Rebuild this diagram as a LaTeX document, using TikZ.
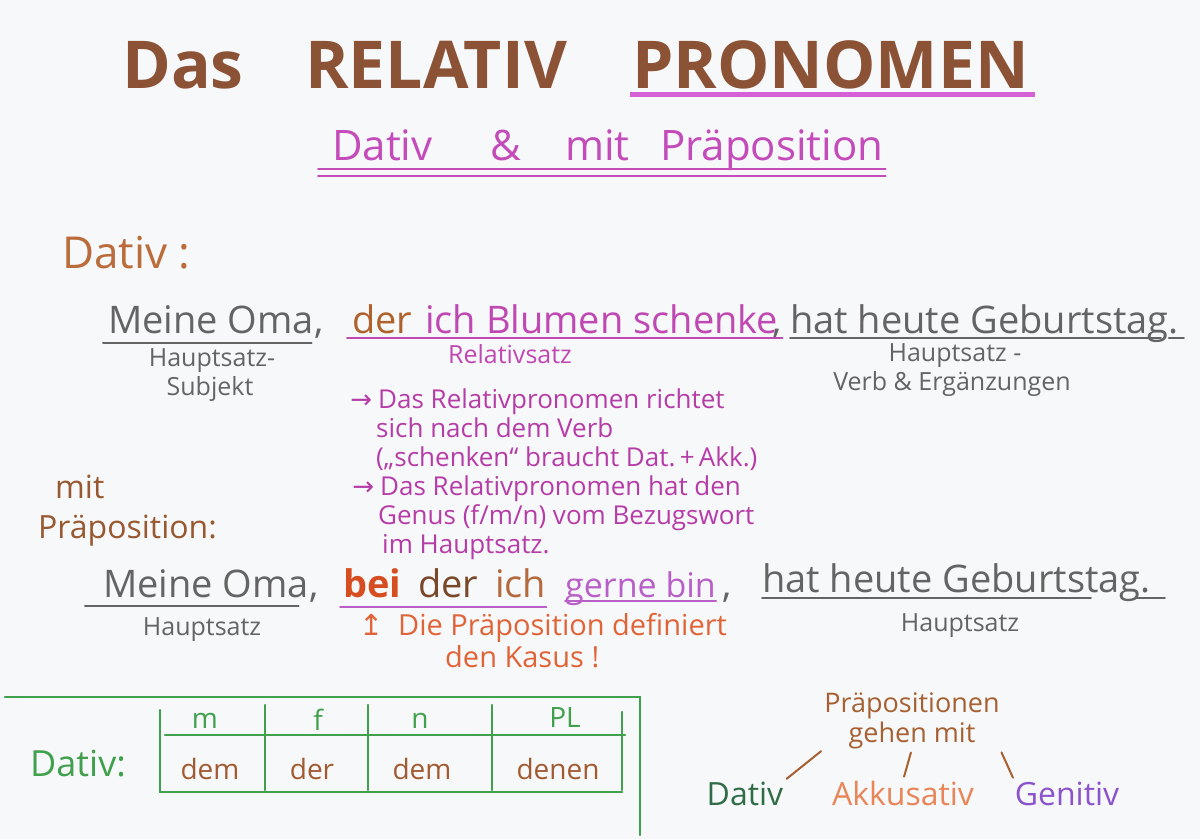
\documentclass[tikz,border=0pt]{standalone}
\usepackage{fontspec}
\setmainfont{Open Sans}
\newfontfamily\symfont{DejaVu Sans}
\usetikzlibrary{positioning}
\definecolor{paper}{RGB}{247,248,250}
\definecolor{titlebrown}{RGB}{140,82,54}
\definecolor{hlpink}{RGB}{214,96,214}
\definecolor{subpink}{RGB}{196,76,186}
\definecolor{dativorange}{RGB}{186,108,58}
\definecolor{pencil}{RGB}{100,100,100}
\definecolor{derbrown}{RGB}{176,98,44}
\definecolor{relpink}{RGB}{192,72,178}
\definecolor{notepink}{RGB}{182,60,168}
\definecolor{mitbrown}{RGB}{152,88,48}
\definecolor{beired}{RGB}{214,78,32}
\definecolor{derdark}{RGB}{120,72,40}
\definecolor{ichbrown}{RGB}{180,106,60}
\definecolor{gernepink}{RGB}{184,96,200}
\definecolor{kasusred}{RGB}{224,100,56}
\definecolor{tabgreen}{RGB}{64,160,76}
\definecolor{cellbrown}{RGB}{162,90,48}
\definecolor{prbrown}{RGB}{166,96,50}
\definecolor{datgreen}{RGB}{48,108,70}
\definecolor{akkorange}{RGB}{232,134,88}
\definecolor{genpurple}{RGB}{140,84,204}
\newcommand{\fsz}[1]{\fontsize{#1}{#1}\selectfont}
\tikzset{
txt/.style={inner sep=0pt, anchor=base west}, % text set on its baseline
ctr/.style={inner sep=0pt, anchor=base},
title/.style={txt, text=titlebrown, font=\fsz{66}\bfseries},
subtitle/.style={txt, text=subpink, font=\fsz{42}},
sent/.style={txt, font=\fsz{38}},
small/.style={ctr, text=pencil, font=\fsz{25}},
note/.style={txt, text=notepink, font=\fsz{26}},
cell/.style={ctr, font=\fsz{28}},
uline/.style={line width=2pt, line cap=round},
tabline/.style={tabgreen, line width=2.5pt, line cap=round},
branch/.style={prbrown, line width=2pt, line cap=round, shorten <=4pt, shorten >=4pt}}

\begin{document}
\begin{tikzpicture}[x=1pt, y=-1pt]
\fill[paper] (0,0) rectangle (1200,839);

% heading
\node[title] (tDas) at (122,88) {Das};
\node[title] (tRel) at (305,88) {RELATIV};
\node[title] (tPro) at (632,88) {PRONOMEN};
\draw[hlpink, line width=5pt] ([xshift=-2pt,yshift=-6pt]tPro.base west) -- ([xshift=6pt,yshift=-6pt]tPro.base east);

\node[subtitle] (sDat) at (332,160) {Dativ};
\node[subtitle] (sAmp) at (490,160) {\&};
\node[subtitle] (sMit) at (565,160) {mit};
\node[subtitle] (sPrae) at (660,160) {Präposition};
\draw[subpink, uline] ([xshift=-14pt,yshift=-9pt]sDat.base west) -- ([xshift=2pt,yshift=-9pt]sPrae.base east);
\draw[subpink, uline] ([xshift=-14pt,yshift=-16pt]sDat.base west) -- ([xshift=2pt,yshift=-16pt]sPrae.base east);

% Dativ
\node[txt, text=dativorange, font=\fsz{44}] (hDat) at (62,268) {Dativ :};

\node[sent, text=pencil] (a1) at (108,333) {Meine Oma,};
\node[sent, text=derbrown] (a2) at (352,333) {der};
\node[sent, text=relpink] (a3) at (425,333) {ich Blumen schenke};
\node[sent, text=pencil] (c1) at (772,333) {,};
\node[sent, text=pencil] (a4) at (790,333) {hat heute Geburtstag.};
\draw[pencil, uline] ([xshift=-5pt,yshift=-10pt]a1.base west) -- ([xshift=-12pt,yshift=-10pt]a1.base east);
\draw[relpink, uline] ([xshift=-5pt,yshift=-5pt]a2.base west) -- ([xshift=4pt,yshift=-5pt]a3.base east);
\draw[pencil, uline] ([yshift=-5pt]a4.base west) -- ([xshift=-18pt,yshift=-5pt]a4.base east);
\draw[pencil, uline] ([xshift=-10pt,yshift=-5pt]a4.base east) -- ([xshift=5pt,yshift=-5pt]a4.base east);

\node[small] (l1a) at (212,366) {Hauptsatz-};
\node[small] (l1b) at (210,395) {Subjekt};
\node[small, text=relpink] (l2) at (510,363) {Relativsatz};
\node[small] (l3a) at (955,361) {Hauptsatz -};
\node[small] (l3b) at (952,390) {Verb \& Ergänzungen};

\node[note] (n1) at (378,408) {\makebox[0pt][r]{\symfont →\hspace{6pt}}Das Relativpronomen richtet};
\node[note] (n2) at (376,437) {sich nach dem Verb};
\node[note] (n3) at (376,466) {(„schenken“ braucht Dat.\,+\,Akk.)};
\node[note] (n4) at (380,495) {\makebox[0pt][r]{\symfont →\hspace{6pt}}Das Relativpronomen hat den};
\node[note] (n5) at (378,524) {Genus (f/m/n) vom Bezugswort};
\node[note] (n6) at (382,553) {im Hauptsatz.};

% mit Praeposition
\node[txt, text=mitbrown, font=\fsz{32}] (pMit) at (55,498) {mit};
\node[txt, text=mitbrown, font=\fsz{32}] (pPrae) at (38,538) {Präposition:};

\node[sent, text=pencil] (b1) at (103,597) {Meine Oma,};
\node[sent, text=beired, font=\fsz{38}\bfseries] (b2) at (343,597) {bei};
\node[sent, text=derdark] (b3) at (418,597) {der};
\node[sent, text=ichbrown] (b4) at (495,597) {ich};
\node[sent, text=gernepink, font=\fsz{34}] (b5) at (565,597) {gerne bin};
\node[sent, text=pencil] (c2) at (722,597) {,};
\node[sent, text=pencil] (b6) at (762,592) {hat heute Geburtstag.};
\draw[pencil, uline] ([xshift=-18pt,yshift=-9pt]b1.base west) -- ([xshift=-20pt,yshift=-9pt]b1.base east);
\draw[gernepink, uline] ([xshift=-3pt,yshift=-10pt]b2.base west) -- ([yshift=-10pt]b4.base east);
\draw[gernepink, uline] ([yshift=-4pt]b5.base west) -- ([yshift=-4pt]b5.base east);
\draw[pencil, uline] ([yshift=-6pt]b6.base west) -- ([xshift=-60pt,yshift=-6pt]b6.base east);
\draw[pencil, uline] ([xshift=-14pt,yshift=-6pt]b6.base east) -- ([xshift=14pt,yshift=-6pt]b6.base east);

\node[small] (l4) at (202,635) {Hauptsatz};
\node[small] (l5) at (960,631) {Hauptsatz};

\node[txt, text=kasusred, font=\fsz{29}] (k1) at (398,635) {\makebox[0pt][r]{\symfont ↥\hspace{14pt}}Die Präposition definiert};
\node[txt, text=kasusred, font=\fsz{29}] (k2) at (445,667) {den Kasus !};

% Tabelle
\draw[tabline] (5,697) -- (640,697) -- (640,835);
\node[txt, text=tabgreen, font=\fsz{36}] (tDat) at (30,776) {Dativ:};
\draw[tabline] (160,710) -- (160,792) -- (622,792);
\draw[tabline] (165,735) -- (625,735);
\foreach \x in {265,368,492} \draw[tabline] (\x,705) -- (\x,790);
\draw[tabline] (622,712) -- (622,790);
\node[cell, text=tabgreen] (hm) at (205,728) {m};
\node[cell, text=tabgreen] (hf) at (318,730) {f};
\node[cell, text=tabgreen] (hn) at (420,728) {n};
\node[cell, text=tabgreen] (hp) at (565,727) {PL};
\node[cell, text=cellbrown] (dm) at (210,779) {dem};
\node[cell, text=cellbrown] (df) at (312,779) {der};
\node[cell, text=cellbrown] (dn) at (422,779) {dem};
\node[cell, text=cellbrown] (dp) at (558,779) {denen};

% Praepositionen
\node[ctr, anchor=north, text=prbrown, font=\fontsize{27}{30}\selectfont, align=center] (prae) at (912,692) {Präpositionen\\gehen mit};
\node[ctr, text=datgreen, font=\fsz{32}] (bDat) at (745,805) {Dativ};
\node[ctr, text=akkorange, font=\fsz{32}] (bAkk) at (903,805) {Akkusativ};
\node[ctr, text=genpurple, font=\fsz{32}] (bGen) at (1067,805) {Genitiv};
\draw[branch] (prae.south west) -- (bDat.north east);
\draw[branch] (prae.south) -- (bAkk.north);
\draw[branch] (prae.south east) -- (bGen.north west);
\end{tikzpicture}
\end{document}
